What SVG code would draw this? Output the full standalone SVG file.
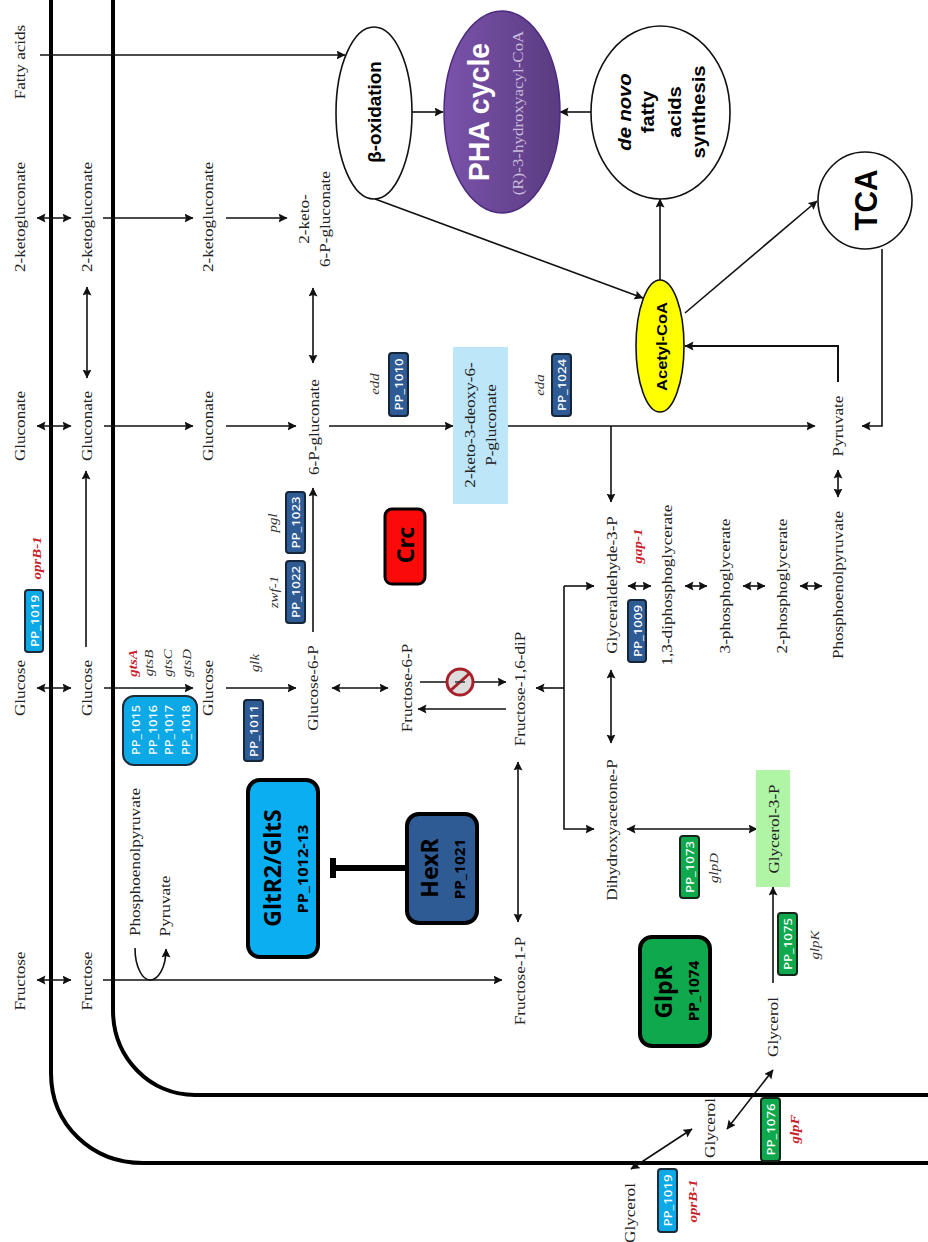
<svg xmlns="http://www.w3.org/2000/svg" width="928" height="1242" viewBox="0 0 928 1242">
<style>
text{text-anchor:middle}
.m{font-family:"Liberation Serif",serif;font-size:14.5px;fill:#222}
.g{font-family:"Liberation Serif",serif;font-size:13px;font-style:italic;fill:#333}
.r{font-family:"Liberation Serif",serif;font-size:13px;font-style:italic;font-weight:bold;fill:#c8202c}
.pp{font-family:"Noto Sans",sans-serif;font-size:11px;font-weight:500;fill:#fff}
.big{font-family:"Noto Sans",sans-serif;font-weight:700;fill:#000}
.ell{font-family:"Liberation Sans",sans-serif;font-weight:700;fill:#000}
.lb{fill:#0da8e6;stroke:#1b2b3a;stroke-width:2}
.db{fill:#2f5b94;stroke:#16263a;stroke-width:2}
.gr{fill:#0fa84c;stroke:#12261a;stroke-width:2}
.mem{fill:none;stroke:#000;stroke-width:4}
.c{fill:none;stroke:#111;stroke-width:1.6}
.a{marker-end:url(#ah)}
.d{marker-start:url(#ah);marker-end:url(#ah)}
.ov{fill:#fff;stroke:#111;stroke-width:1.6}
</style>
<defs>
<marker id="ah" markerUnits="userSpaceOnUse" markerWidth="10" markerHeight="10" refX="8.5" refY="4.5" orient="auto-start-reverse"><path d="M0 0L9 4.5L0 9L1.5 4.5Z" fill="#111"/></marker>
<linearGradient id="ph" x1="0" y1="0" x2="1" y2="0"><stop offset="0" stop-color="#7b53ab"/><stop offset="1" stop-color="#5a3b80"/></linearGradient>
</defs>

<g id="membranes">
<path class="mem" d="M51 0V1073C51 1125 92 1163 143 1163H928"/>
<path class="mem" d="M113 0V1010C113 1058 150 1095 195 1095H928"/>
</g>

<g id="connectors">
<path class="c a" d="M40 55H345"/>
<path class="c d" d="M37 218H71"/>
<path class="c a" d="M103 218H193"/>
<path class="c a" d="M226 218H287"/>
<path class="c d" d="M87 287V378"/>
<path class="c d" d="M313 288V363"/>
<path class="c d" d="M37 426H71"/>
<path class="c a" d="M104 426H193"/>
<path class="c a" d="M226 426H296"/>
<path class="c a" d="M329 426H453"/>
<path class="c a" d="M508 426H815"/>
<path class="c a" d="M611 426V502"/>
<path class="c a" d="M838 382V346H685" style="stroke-width:2"/>
<path class="c a" d="M882 249V426H862"/>
<path class="c d" d="M838 470V497"/>
<path class="c d" d="M37 688H71"/>
<path class="c a" d="M86 647V471"/>
<path class="c a" d="M104 688H193"/>
<path class="c a" d="M226 688H296"/>
<path class="c a" d="M313 632V488"/>
<path class="c d" d="M332 688H388"/>
<path class="c a" d="M420 682H506"/>
<path class="c a" d="M506 709H418"/>
<path class="c a" d="M564 586V829H594"/>
<path class="c a" d="M564 586H594"/>
<path class="c a" d="M564 688H536"/>
<path class="c d" d="M611 670V743"/>
<path class="c d" d="M518 762V922"/>
<path class="c d" d="M628 586H651"/>
<path class="c d" d="M685 586H707"/>
<path class="c d" d="M743 586H765"/>
<path class="c d" d="M800 586H822"/>
<path class="c d" d="M627 829H757"/>
<path class="c a" d="M773 983V887"/>
<path class="c d" d="M773 1070L727 1129"/>
<path class="c d" d="M692 1129L631 1169"/>
<path class="c d" d="M37 980H71"/>
<path class="c a" d="M103 980H502"/>
<path class="c a" d="M135 948C135 968 143 980 150 980C158 980 166 968 166 949"/>
<path class="c a" d="M412 112H443"/>
<path class="c a" d="M591 112H560"/>
<path class="c a" d="M660 280V199"/>
<path class="c a" d="M685 313L817 201"/>
<path class="c a" d="M375 199L643 298"/>
<path d="M405 868H335" fill="none" stroke="#000" stroke-width="6"/>
<path d="M333 858V878" fill="none" stroke="#000" stroke-width="6"/>
</g>

<g id="metabolites">
<text class="m" transform="translate(25 62) rotate(-90) scale(1.18 1)">Fatty acids</text>
<text class="m" transform="translate(25 217) rotate(-90) scale(1.18 1)">2-ketogluconate</text>
<text class="m" transform="translate(92 217) rotate(-90) scale(1.18 1)">2-ketogluconate</text>
<text class="m" transform="translate(213 217) rotate(-90) scale(1.18 1)">2-ketogluconate</text>
<text class="m" transform="translate(309 219) rotate(-90) scale(1.18 1)">2-keto-</text>
<text class="m" transform="translate(330 219) rotate(-90) scale(1.18 1)">6-P-gluconate</text>
<text class="m" transform="translate(25 426) rotate(-90) scale(1.18 1)">Gluconate</text>
<text class="m" transform="translate(92 426) rotate(-90) scale(1.18 1)">Gluconate</text>
<text class="m" transform="translate(213 426) rotate(-90) scale(1.18 1)">Gluconate</text>
<text class="m" transform="translate(319 427) rotate(-90) scale(1.18 1)">6-P-gluconate</text>
<text class="m" transform="translate(25 688) rotate(-90) scale(1.18 1)">Glucose</text>
<text class="m" transform="translate(92 688) rotate(-90) scale(1.18 1)">Glucose</text>
<text class="m" transform="translate(213 688) rotate(-90) scale(1.18 1)">Glucose</text>
<text class="m" transform="translate(318 688) rotate(-90) scale(1.18 1)">Glucose-6-P</text>
<text class="m" transform="translate(25 981) rotate(-90) scale(1.18 1)">Fructose</text>
<text class="m" transform="translate(92 981) rotate(-90) scale(1.18 1)">Fructose</text>
<text class="m" transform="translate(140 862) rotate(-90) scale(1.18 1)">Phosphoenolpyruvate</text>
<text class="m" transform="translate(170 906) rotate(-90) scale(1.18 1)">Pyruvate</text>
<text class="m" transform="translate(412 688) rotate(-90) scale(1.18 1)">Fructose-6-P</text>
<text class="m" transform="translate(525 689) rotate(-90) scale(1.18 1)">Fructose-1,6-diP</text>
<text class="m" transform="translate(525 981) rotate(-90) scale(1.18 1)">Fructose-1-P</text>
<text class="m" transform="translate(617 585) rotate(-90) scale(1.18 1)">Glyceraldehyde-3-P</text>
<text class="m" transform="translate(617 830) rotate(-90) scale(1.18 1)">Dihydroxyacetone-P</text>
<text class="m" transform="translate(672 585) rotate(-90) scale(1.18 1)">1,3-diphosphoglycerate</text>
<text class="m" transform="translate(730 586) rotate(-90) scale(1.18 1)">3-phosphoglycerate</text>
<text class="m" transform="translate(787 586) rotate(-90) scale(1.18 1)">2-phosphoglycerate</text>
<text class="m" transform="translate(843 585) rotate(-90) scale(1.18 1)">Phosphoenolpyruvate</text>
<text class="m" transform="translate(843 426) rotate(-90) scale(1.18 1)">Pyruvate</text>
<text class="m" transform="translate(778 1027) rotate(-90) scale(1.18 1)">Glycerol</text>
<text class="m" transform="translate(715 1128) rotate(-90) scale(1.18 1)">Glycerol</text>
<text class="m" transform="translate(635 1213) rotate(-90) scale(1.18 1)">Glycerol</text>
</g>

<g id="kdpg"><rect x="453" y="347" width="55" height="157" fill="#bde6f8"/>
<text class="m" transform="translate(475 425) rotate(-90) scale(1.18 1)">2-keto-3-deoxy-6-</text>
<text class="m" transform="translate(496 425) rotate(-90) scale(1.18 1)">P-gluconate</text></g>
<g id="g3p"><rect x="756" y="770" width="34" height="117" fill="#b0f5a5"/>
<text class="m" transform="translate(779 829) rotate(-90) scale(1.18 1)">Glycerol-3-P</text></g>

<g id="genes">
<text class="r" transform="translate(41 558) rotate(-90) scale(1.15 1)">oprB-1</text>
<text class="r" transform="translate(137 663) rotate(-90) scale(1.15 1)">gtsA</text>
<text class="g" transform="translate(153 663) rotate(-90) scale(1.15 1)">gtsB</text>
<text class="g" transform="translate(172 663) rotate(-90) scale(1.15 1)">gtsC</text>
<text class="g" transform="translate(191 663) rotate(-90) scale(1.15 1)">gtsD</text>
<text class="g" transform="translate(259 663) rotate(-90) scale(1.15 1)">glk</text>
<text class="g" transform="translate(278 592) rotate(-90) scale(1.15 1)">zwf-1</text>
<text class="g" transform="translate(277 523) rotate(-90) scale(1.15 1)">pgl</text>
<text class="g" transform="translate(379 384) rotate(-90) scale(1.15 1)">edd</text>
<text class="g" transform="translate(544 385) rotate(-90) scale(1.15 1)">eda</text>
<text class="r" transform="translate(642 546) rotate(-90) scale(1.15 1)">gap-1</text>
<text class="g" transform="translate(718 868) rotate(-90) scale(1.15 1)">glpD</text>
<text class="g" transform="translate(819 945) rotate(-90) scale(1.15 1)">glpK</text>
<text class="r" transform="translate(799 1129) rotate(-90) scale(1.15 1)">glpF</text>
<text class="r" transform="translate(697 1201) rotate(-90) scale(1.15 1)">oprB-1</text>
</g>

<g id="pp-1019a"><rect class="lb" x="25" y="590" width="18" height="62" rx="3"/><text class="pp" transform="translate(38.500 621) rotate(-90) scale(1.2 1)">PP_1019</text></g>
<g id="pp-1015"><rect class="lb" x="123" y="696" width="74" height="69" rx="11"/>
<text class="pp" transform="translate(140 730) rotate(-90) scale(1.15 1)">PP_1015</text>
<text class="pp" transform="translate(157 730) rotate(-90) scale(1.15 1)">PP_1016</text>
<text class="pp" transform="translate(173 730) rotate(-90) scale(1.15 1)">PP_1017</text>
<text class="pp" transform="translate(190 730) rotate(-90) scale(1.15 1)">PP_1018</text></g>
<g id="pp-1011"><rect class="db" x="244" y="700" width="19" height="61" rx="3"/><text class="pp" transform="translate(258 731) rotate(-90) scale(1.2 1)">PP_1011</text></g>
<g id="pp-1022"><rect class="db" x="286" y="561" width="19" height="62" rx="3"/><text class="pp" transform="translate(300 592) rotate(-90) scale(1.2 1)">PP_1022</text></g>
<g id="pp-1023"><rect class="db" x="286" y="492" width="19" height="61" rx="3"/><text class="pp" transform="translate(300 522.500) rotate(-90) scale(1.2 1)">PP_1023</text></g>
<g id="pp-1010"><rect class="db" x="389" y="353" width="19" height="63" rx="3"/><text class="pp" transform="translate(403 384.500) rotate(-90) scale(1.2 1)">PP_1010</text></g>
<g id="pp-1024"><rect class="db" x="552" y="354" width="19" height="62" rx="3"/><text class="pp" transform="translate(566 385) rotate(-90) scale(1.2 1)">PP_1024</text></g>
<g id="pp-1009"><rect class="db" x="628" y="600" width="18" height="62" rx="3"/><text class="pp" transform="translate(641.500 631) rotate(-90) scale(1.2 1)">PP_1009</text></g>
<g id="pp-1073"><rect class="gr" x="680" y="836" width="19" height="62" rx="3"/><text class="pp" transform="translate(694 867) rotate(-90) scale(1.2 1)">PP_1073</text></g>
<g id="pp-1075"><rect class="gr" x="778" y="913" width="19" height="62" rx="3"/><text class="pp" transform="translate(792 944) rotate(-90) scale(1.2 1)">PP_1075</text></g>
<g id="pp-1076"><rect class="gr" x="761" y="1098" width="19" height="63" rx="3"/><text class="pp" transform="translate(775 1129.500) rotate(-90) scale(1.2 1)">PP_1076</text></g>
<g id="pp-1019b"><rect class="lb" x="658" y="1169" width="19" height="63" rx="3"/><text class="pp" transform="translate(672 1200.500) rotate(-90) scale(1.2 1)">PP_1019</text></g>

<g id="gltr2"><rect x="248" y="780" width="70" height="177" rx="12" fill="#0baef0" stroke="#000" stroke-width="4"/>
<text class="big" font-size="23" transform="translate(281 868) rotate(-90)">GltR2/GltS</text>
<text class="big" font-size="15" transform="translate(308 869) rotate(-90) scale(1.1 1)">PP_1012-13</text></g>
<g id="hexr"><rect x="407" y="814" width="70" height="109" rx="12" fill="#2f5b94" stroke="#000" stroke-width="4"/>
<text class="big" font-size="23" transform="translate(438 868) rotate(-90)">HexR</text>
<text class="big" font-size="14" transform="translate(465 869) rotate(-90) scale(1.1 1)">PP_1021</text></g>
<g id="glpr"><rect x="640" y="937" width="70" height="109" rx="12" fill="#0fa84c" stroke="#000" stroke-width="4"/>
<text class="big" font-size="23" transform="translate(672 992) rotate(-90)">GlpR</text>
<text class="big" font-size="14" transform="translate(699 991) rotate(-90) scale(1.1 1)">PP_1074</text></g>
<g id="crc"><rect x="385" y="509" width="40" height="75" rx="7" fill="#fb0a0a" stroke="#000" stroke-width="3"/>
<text class="big" font-size="23" transform="translate(414 545) rotate(-90)">Crc</text></g>

<g id="inhibit"><circle cx="460" cy="682" r="13" fill="#ddd" stroke="#a8202c" stroke-width="3"/><path d="M450 691L470 673" stroke="#a8202c" stroke-width="3"/><path d="M455 682H465" stroke="#333" stroke-width="1.500"/></g>

<g id="beta"><ellipse class="ov" cx="374" cy="113" rx="38" ry="86"/>
<text class="ell" font-size="18" transform="translate(381 112) rotate(-90) scale(1.05 1)">β-oxidation</text></g>
<g id="pha"><ellipse cx="502" cy="112" rx="58" ry="101" fill="url(#ph)" stroke="#4b2a80" stroke-width="1.500"/>
<text class="ell" font-size="30" style="fill:#fff" transform="translate(489 112) rotate(-90) scale(.95 1)">PHA cycle</text>
<text class="m" style="fill:#cbbcdc;font-size:15px" transform="translate(523 113) rotate(-90) scale(1.13 1)">(R)-3-hydroxyacyl-CoA</text></g>
<g id="denovo"><ellipse class="ov" cx="660.500" cy="112.500" rx="69.500" ry="86.500"/>
<text class="ell" font-size="18" font-style="italic" transform="translate(631 112) rotate(-90) scale(1.12 1)">de novo</text>
<text class="ell" font-size="18" transform="translate(654 112) rotate(-90) scale(1.12 1)">fatty</text>
<text class="ell" font-size="18" transform="translate(681 112) rotate(-90) scale(1.12 1)">acids</text>
<text class="ell" font-size="18" transform="translate(705 112) rotate(-90) scale(1.12 1)">synthesis</text></g>
<g id="tca"><ellipse class="ov" cx="865" cy="200.500" rx="47" ry="48.500"/>
<text class="ell" font-size="32" transform="translate(877 200) rotate(-90) scale(.93 1)">TCA</text></g>
<g id="acetyl"><ellipse cx="660" cy="346" rx="24" ry="66" fill="#ff0" stroke="#111" stroke-width="1.600"/>
<text class="ell" font-size="15" transform="translate(667 346.500) rotate(-90) scale(1.1 1)">Acetyl-CoA</text></g>
</svg>
